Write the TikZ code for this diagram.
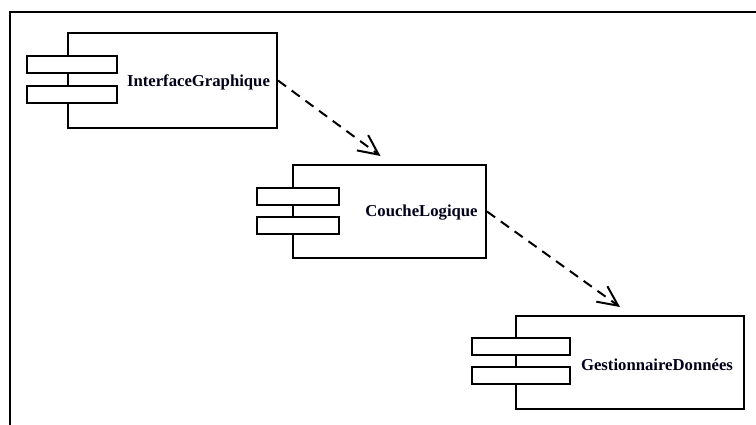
\documentclass[tikz,border=0pt]{standalone}
\usepackage{fontspec}
\setmainfont{Liberation Serif}
\usetikzlibrary{arrows.meta}
\begin{document}
\begin{tikzpicture}[x=1pt,y=-1pt,
  comp/.style={draw=black,line width=2pt,fill=white,rectangle,inner sep=0pt},
  port/.style={draw=black,line width=2pt,fill=white,rectangle,inner sep=0pt,minimum height=17pt},
  lbl/.style={font=\fontsize{16.7}{18}\selectfont\bfseries,inner sep=0pt,text=black!90!blue},
  dep/.style={line width=2pt,dash pattern=on 10pt off 7pt,-{Straight Barb[length=20pt,width=19pt,line width=2pt]}}]
\useasboundingbox (0,0) rectangle (756,424);
\fill[white] (0,0) rectangle (756,424);
\draw[line width=2pt] (10,430) -- (10,12) -- (760,12);
% component 1
\node[comp,minimum width=209pt,minimum height=95pt] (c1) at (172.5,80.5) {};
\node[port,minimum width=90pt] (c1p1) at (72,64.5) {};
\node[port,minimum width=90pt] (c1p2) at (72,94.5) {};
\node[lbl] (c1t) at (198.5,82) {InterfaceGraphique};
% component 2
\node[comp,minimum width=193pt,minimum height=93pt] (c2) at (389.5,211.5) {};
\node[port,minimum width=82pt] (c2p1) at (298,196.5) {};
\node[port,minimum width=82pt] (c2p2) at (298,225.5) {};
\node[lbl] (c2t) at (421.5,213) {CoucheLogique};
% component 3
\node[comp,minimum width=228pt,minimum height=93pt] (c3) at (630,362.5) {};
\node[port,minimum width=98pt] (c3p1) at (521,346.5) {};
\node[port,minimum width=98pt] (c3p2) at (521,375.5) {};
\node[lbl] (c3t) at (657,365) {GestionnaireDonnées};
% dependencies
\draw[dep] (c1.east) -- ([xshift=-9pt,yshift=8pt]c2.north);
\draw[dep] (c2.east) -- ([xshift=-10pt,yshift=8pt]c3.north);
\end{tikzpicture}
\end{document}
